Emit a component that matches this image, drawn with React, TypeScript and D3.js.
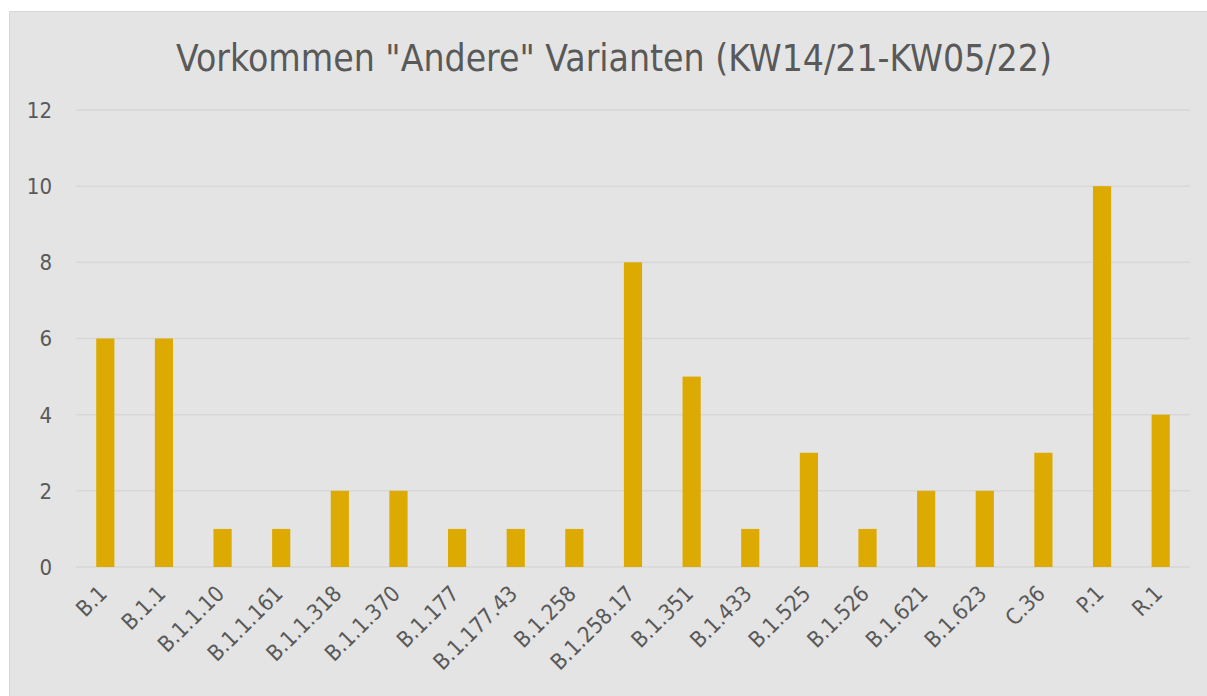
import { useEffect, useRef } from 'react';
import * as d3 from 'd3';

const categories = [
  'B.1', 'B.1.1', 'B.1.1.10', 'B.1.1.161', 'B.1.1.318', 'B.1.1.370', 'B.1.177',
  'B.1.177.43', 'B.1.258', 'B.1.258.17', 'B.1.351', 'B.1.433', 'B.1.525',
  'B.1.526', 'B.1.621', 'B.1.623', 'C.36', 'P.1', 'R.1',
];
const counts = [6, 6, 1, 1, 2, 2, 1, 1, 1, 8, 5, 1, 3, 1, 2, 2, 3, 10, 4];
const yTicks = [0, 2, 4, 6, 8, 10, 12];
const title = 'Vorkommen "Andere" Varianten (KW14/21-KW05/22)';

export default function App() {
  const svgRef = useRef<SVGSVGElement>(null);

  useEffect(() => {
    if (!svgRef.current) return;
    const svg = d3.select(svgRef.current);
    svg.selectAll('*').remove();

    const width = 1207;
    const height = 696;
    const font = '"DejaVu Sans Condensed", "DejaVu Sans", sans-serif';
    const textColor = '#595959';

    svg.append('rect').attr('width', width).attr('height', height).attr('fill', '#ffffff');
    svg.append('rect')
      .attr('x', 9.5).attr('y', 11.5)
      .attr('width', width).attr('height', height)
      .attr('fill', '#e4e4e4')
      .attr('stroke', '#d6d6d6');

    const x = d3.scaleBand<string>().domain(categories).range([76, 1190]).paddingInner(0.69).paddingOuter(0.345);
    const y = d3.scaleLinear().domain([0, 12]).range([567, 110]);

    // Title
    svg.append('text')
      .attr('x', 614).attr('y', 71)
      .attr('text-anchor', 'middle')
      .attr('font-family', font)
      .attr('font-size', 37)
      .attr('fill', textColor)
      .text(title);

    // Gridlines
    svg.append('g').selectAll('line').data(yTicks).join('line')
      .attr('x1', 76).attr('x2', 1190)
      .attr('y1', (d) => y(d)).attr('y2', (d) => y(d))
      .attr('stroke', '#d7d7d7')
      .attr('stroke-width', 1.5);

    // Y labels
    svg.append('g').selectAll('text').data(yTicks).join('text')
      .attr('x', 52).attr('y', (d) => y(d))
      .attr('dy', '0.36em')
      .attr('text-anchor', 'end')
      .attr('font-family', font)
      .attr('font-size', 22)
      .attr('fill', textColor)
      .text((d) => d);

    // Bars
    svg.append('g').selectAll('rect').data(counts).join('rect')
      .attr('x', (_, i) => x(categories[i])!)
      .attr('width', x.bandwidth())
      .attr('y', (d) => y(d))
      .attr('height', (d) => y(0) - y(d))
      .attr('fill', '#dcaa00');

    // X labels
    svg.append('g').selectAll('text').data(categories).join('text')
      .attr('transform', (d) => `translate(${x(d)! + x.bandwidth() / 2 + 3},${595}) rotate(-45)`)
      .attr('text-anchor', 'end')
      .attr('font-family', font)
      .attr('font-size', 22)
      .attr('fill', textColor)
      .text((d) => d);
  }, []);

  return <svg ref={svgRef} width={1207} height={696} style={{ position: 'absolute', left: 0, top: 0 }} />;
}
